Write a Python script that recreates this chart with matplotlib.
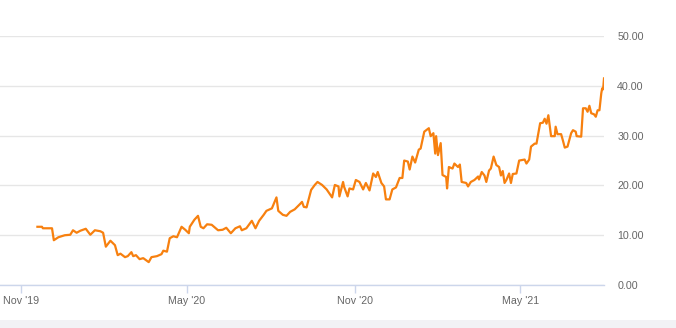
import numpy as np
import pandas as pd
import matplotlib
matplotlib.use("Agg")
import matplotlib.pyplot as plt
from matplotlib.patches import Rectangle

plt.rcParams['font.family'] = ['Liberation Sans', 'DejaVu Sans']

# price series: days since 2019-11-01 and value
start = pd.Timestamp("2019-11-01")
days = [18, 23, 24, 34, 36, 41, 48, 54, 57, 61, 65, 71, 76, 81, 87, 90, 93, 98, 103, 106,
        109, 114, 117, 121, 123, 126, 130, 134, 140, 143, 149, 154, 156, 160, 163, 167, 171, 176, 180, 184,
        185, 190, 194, 197, 200, 204, 209, 216, 221, 225, 230, 235, 240, 242, 247, 253, 257, 261, 266, 269,
        275, 280, 282, 287, 291, 295, 300, 306, 308, 310, 313, 318, 322, 325, 330, 335, 341, 344, 348, 349,
        353, 354, 358, 360, 364, 367, 371, 375, 378, 382, 386, 389, 391, 395, 398, 400, 404, 407, 411, 415,
        418, 420, 424, 426, 429, 432, 436, 438, 442, 447, 449, 452, 454, 455, 457, 459, 460, 462, 466, 467,
        469, 473, 475, 479, 481, 483, 488, 490, 493, 497, 501, 502, 505, 508, 510, 513, 515, 518, 521, 524,
        526, 528, 530, 532, 535, 537, 539, 543, 546, 552, 554, 557, 559, 563, 565, 569, 572, 574, 576, 578,
        581, 585, 586, 588, 592, 594, 596, 599, 603, 605, 608, 609, 614, 616, 619, 621, 623, 625, 628, 630,
        632, 634, 636, 637, 638, 639]
values = [11.7, 11.7, 11.4, 11.4, 9.0, 9.6, 10.0, 10.1, 11.0, 10.5, 10.9, 11.3, 10.1, 11.0, 10.8, 10.5, 7.7, 8.9, 8.0, 6.0,
          6.3, 5.6, 5.8, 6.6, 5.8, 6.0, 5.2, 5.4, 4.6, 5.6, 5.8, 6.2, 6.9, 6.7, 9.4, 9.8, 9.6, 11.7, 11.1, 10.4,
          11.7, 13.1, 13.9, 11.7, 11.4, 12.2, 12.1, 11.0, 11.1, 11.5, 10.4, 11.4, 11.8, 11.0, 11.4, 12.9, 11.4, 12.9, 14.1, 14.9,
          15.4, 17.6, 14.9, 14.1, 13.9, 14.7, 15.2, 16.3, 16.7, 15.7, 15.6, 19.1, 20.1, 20.7, 20.1, 19.2, 17.6, 20.1, 19.8, 17.8,
          20.7, 19.8, 17.8, 19.4, 19.2, 21.1, 20.7, 19.2, 20.5, 19.0, 22.4, 21.7, 22.7, 20.5, 19.8, 17.2, 17.2, 19.2, 19.6, 21.5,
          21.5, 25.0, 24.8, 23.2, 25.8, 24.6, 27.2, 27.4, 30.8, 31.5, 29.9, 30.5, 26.4, 29.9, 26.1, 27.7, 28.5, 22.1, 21.7, 19.4,
          23.7, 23.4, 24.4, 23.7, 24.2, 20.7, 20.5, 19.8, 20.7, 21.1, 21.8, 21.2, 22.7, 22.0, 20.7, 23.0, 23.4, 25.8, 24.1, 23.7,
          22.0, 22.9, 20.5, 21.1, 22.4, 20.5, 22.3, 22.4, 25.0, 25.2, 24.4, 25.2, 27.8, 28.4, 28.4, 32.5, 32.6, 33.4, 32.4, 34.1,
          29.9, 29.9, 31.8, 30.3, 30.3, 29.0, 27.6, 27.8, 30.5, 31.1, 30.8, 29.9, 29.8, 35.5, 35.5, 34.8, 36.0, 34.5, 34.3, 33.8,
          35.1, 35.1, 38.5, 39.5, 39.3, 41.5]

x_ticks = ["2019-11-01", "2020-05-01", "2020-11-01", "2021-05-01"]
x_labels = ["Nov '19", "May '20", "Nov '20", "May '21"]
y_ticks = [0, 10, 20, 30, 40, 50]

dates = start + pd.to_timedelta(days, unit="D")

fig = plt.figure(figsize=(6.76, 3.28), dpi=100)
fig.patches.append(Rectangle((0, 0), 1, 8 / 328, transform=fig.transFigure,
                             facecolor="#f2f2f5", edgecolor="none", zorder=0))
ax = fig.add_axes([0, 0.131, 0.8935, 0.759])

ax.plot(dates, values, color="#f7800f", lw=1.6, solid_joinstyle="round", zorder=3)

ax.set_xlim(pd.Timestamp("2019-10-09"), pd.Timestamp("2021-08-01"))
ax.set_ylim(0, 50)
ax.set_yticks(y_ticks)
ax.set_yticklabels(["%.2f" % v for v in y_ticks])
ax.yaxis.tick_right()
ax.set_xticks(pd.to_datetime(x_ticks))
ax.set_xticklabels(x_labels)

ax.grid(axis="y", color="#e6e6e6", lw=1)
ax.set_axisbelow(True)
for s in ["top", "left", "right"]:
    ax.spines[s].set_visible(False)
ax.spines["bottom"].set_color("#ccd6eb")
ax.spines["bottom"].set_linewidth(1)
ax.tick_params(axis="y", length=0, pad=9.5, labelsize=7.7, labelcolor="#666666")
ax.tick_params(axis="x", length=6, width=1, color="#ccd6eb", pad=2,
               labelsize=7.7, labelcolor="#666666")

fig.savefig("out.png", dpi=100)
